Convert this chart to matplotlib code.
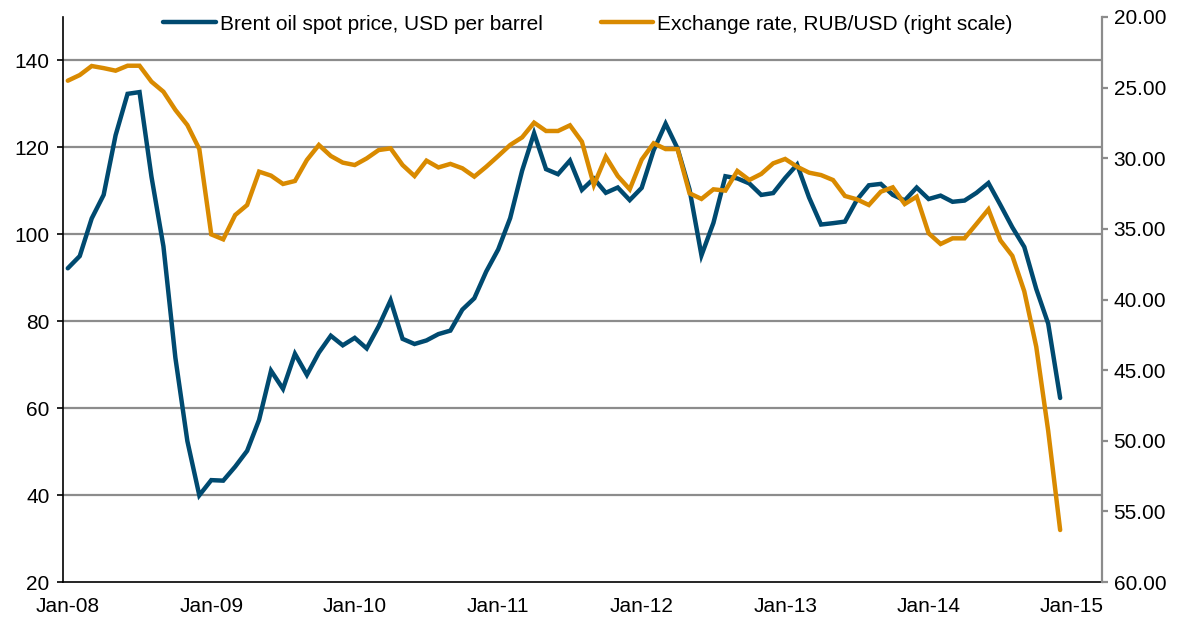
import numpy as np
import matplotlib
matplotlib.use("Agg")
import matplotlib.pyplot as plt

plt.rcParams["font.family"] = ["Liberation Sans", "DejaVu Sans"]

# Monthly values, Jan-2008 .. Dec-2014
brent = [
    92.18, 94.99, 103.64, 109.07, 122.80, 132.32, 132.72, 113.24, 97.23, 71.58, 52.45, 39.95,
    43.44, 43.32, 46.54, 50.18, 57.30, 68.61, 64.44, 72.51, 67.65, 72.77, 76.66, 74.46,
    76.17, 73.75, 78.83, 84.82, 75.95, 74.76, 75.58, 77.04, 77.84, 82.67, 85.28, 91.45,
    96.52, 103.72, 114.64, 123.26, 114.99, 113.83, 116.97, 110.22, 112.83, 109.55, 110.77, 107.87,
    110.69, 119.33, 125.45, 119.75, 110.34, 95.16, 102.62, 113.36, 112.86, 111.71, 109.06, 109.49,
    112.96, 116.05, 108.47, 102.25, 102.56, 102.92, 107.93, 111.28, 111.60, 109.08, 107.79, 110.76,
    108.12, 108.90, 107.48, 107.76, 109.54, 111.80, 106.77, 101.61, 97.09, 87.43, 79.44, 62.34,
]
rub_usd = [
    24.51, 24.11, 23.47, 23.62, 23.80, 23.45, 23.45, 24.58, 25.29, 26.58, 27.65, 29.35,
    35.39, 35.74, 34.02, 33.31, 30.95, 31.23, 31.82, 31.61, 30.12, 29.06, 29.84, 30.31,
    30.48, 30.01, 29.42, 29.30, 30.48, 31.26, 30.17, 30.65, 30.40, 30.71, 31.30, 30.60,
    29.84, 29.06, 28.52, 27.48, 28.07, 28.07, 27.67, 28.83, 31.89, 29.89, 31.26, 32.20,
    30.10, 28.94, 29.35, 29.35, 32.48, 32.88, 32.20, 32.29, 30.90, 31.54, 31.11, 30.36,
    30.05, 30.60, 31.02, 31.19, 31.54, 32.67, 32.91, 33.31, 32.37, 32.06, 33.24, 32.72,
    35.31, 36.07, 35.67, 35.67, 34.65, 33.62, 35.81, 36.91, 39.42, 43.34, 49.30, 56.32,
]
year_labels = ["Jan-08", "Jan-09", "Jan-10", "Jan-11", "Jan-12", "Jan-13", "Jan-14", "Jan-15"]

blue = "#004A70"
orange = "#D98A00"
grid_grey = "#8C8C8C"
fs = 15

x = np.arange(len(brent))

fig = plt.figure(figsize=(11.81, 6.23), dpi=100)
ax = fig.add_axes([63 / 1181, 1 - 582 / 623, (1102 - 63) / 1181, (582 - 17) / 623])
ax2 = ax.twinx()

ax.plot(x, brent, color=blue, lw=3.2, solid_joinstyle="miter", solid_capstyle="round",
        label="Brent oil spot price, USD per barrel")
ax2.plot(x, rub_usd, color=orange, lw=3.2, solid_joinstyle="miter", solid_capstyle="round",
         label="Exchange rate, RUB/USD (right scale)")

ax.set_xlim(-0.4, 86.5)
ax.set_ylim(20, 150)
ax.set_yticks(np.arange(20, 141, 20))
ax.set_xticks(np.arange(0, 85, 12))
ax.set_xticklabels(year_labels)
ax2.set_ylim(60, 20)
ax2.set_yticks(np.arange(20, 61, 5))
ax2.set_yticklabels([f"{v:.2f}" for v in np.arange(20, 61, 5)])

for g in np.arange(40, 141, 20):
    ax.axhline(g, color=grid_grey, lw=1.6, zorder=0)

for s in ["top", "right"]:
    ax.spines[s].set_visible(False)
ax.spines["left"].set_linewidth(1.2)
ax.spines["bottom"].set_linewidth(1.2)
for s in ["top", "left", "bottom"]:
    ax2.spines[s].set_visible(False)
ax2.spines["right"].set_color(grid_grey)
ax2.spines["right"].set_linewidth(1.6)

ax.tick_params(axis="y", length=4.3, width=1.2, pad=5.5, labelsize=fs)
ax.tick_params(axis="x", length=0, pad=11, labelsize=fs)
ax2.tick_params(axis="y", length=4.3, width=1.6, color=grid_grey, pad=4, labelsize=fs)

h1, l1 = ax.get_legend_handles_labels()
h2, l2 = ax2.get_legend_handles_labels()
ax2.legend(h1 + h2, l1 + l2, loc="center", bbox_to_anchor=(588 / 1181, 1 - 24 / 623),
           bbox_transform=fig.transFigure, ncol=2, frameon=False, fontsize=fs,
           handlelength=2.5, handletextpad=0.2, columnspacing=2.8,
           borderpad=0, borderaxespad=0)

fig.savefig("out.png", dpi=100)
